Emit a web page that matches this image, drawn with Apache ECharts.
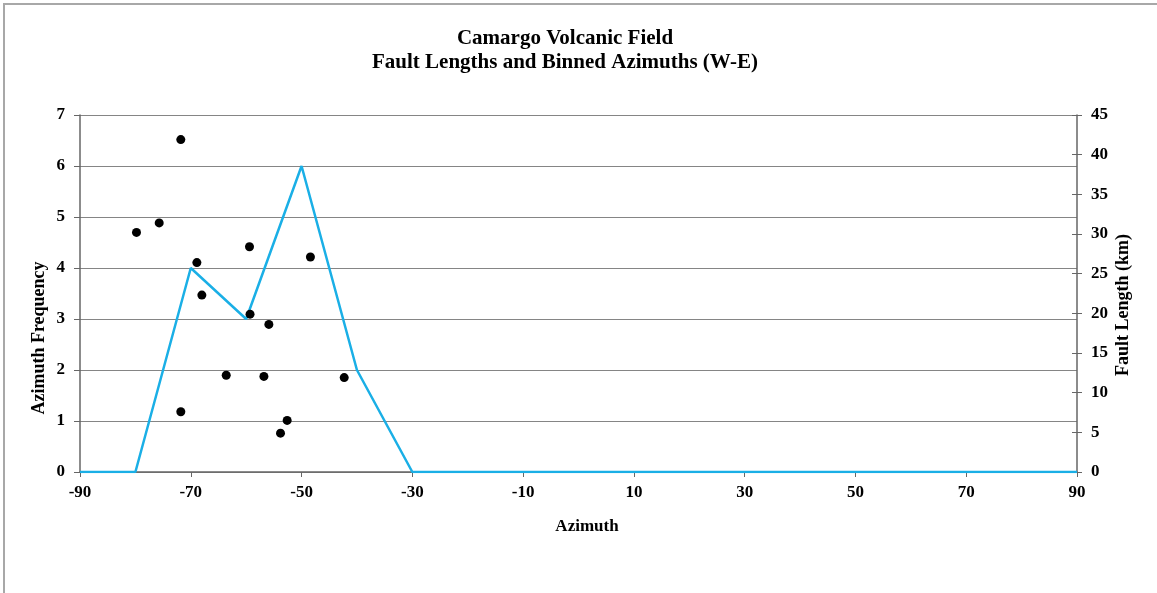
<!DOCTYPE html>
<html><head><meta charset="utf-8">
<script src="https://cdn.jsdelivr.net/npm/echarts@6/dist/echarts.min.js"></script>
<style>html,body{margin:0;padding:0;background:#fff}#c{width:1157px;height:593px}</style>
</head><body><div id="c"></div>
<script>
var binAzimuths = [-90,-80,-70,-60,-50,-40,-30,-20,-10,0,10,20,30,40,50,60,70,80,90];
var binFrequency = [0,0,4,3,6,2,0,0,0,0,0,0,0,0,0,0,0,0,0];
var faultAzimuth = [-79.8,-75.7,-71.8,-68.9,-68.0,-71.8,-63.6,-59.4,-59.3,-55.9,-56.8,-52.6,-53.8,-48.4,-42.3];
var faultLength  = [30.2,31.4,41.9,26.4,22.3,7.6,12.2,28.4,19.9,18.6,12.05,6.5,4.9,27.1,11.9];
var xTickLabels = [-90,-70,-50,-30,-10,10,30,50,70,90];

var font = '"Liberation Serif", "Times New Roman", serif';
var chart = echarts.init(document.getElementById('c'));
var lineData = binAzimuths.map(function(a,i){return [a, binFrequency[i]];});
var dotData = faultAzimuth.map(function(a,i){return [a, faultLength[i]];});
var tickFont = {fontFamily:font, fontWeight:'bold', fontSize:17, color:'#000'};
chart.setOption({
  animation:false,
  backgroundColor:'#fff',
  grid:{left:80, right:80, top:115, bottom:121},
  xAxis:{type:'value', min:-90, max:90,
    axisLine:{onZero:false, lineStyle:{color:'#666', width:1.5}},
    axisTick:{customValues:xTickLabels, length:5, lineStyle:{color:'#666'}},
    axisLabel:Object.assign({customValues:xTickLabels, margin:12}, tickFont),
    splitLine:{show:false}},
  yAxis:[
    {type:'value', min:0, max:7, interval:1, position:'left',
     axisLine:{show:true, onZero:false, lineStyle:{color:'#666', width:1.5}},
     axisTick:{show:true, length:6, lineStyle:{color:'#666'}},
     axisLabel:Object.assign({margin:15}, tickFont),
     splitLine:{show:true, lineStyle:{color:'#858585', width:1.2}}},
    {type:'value', min:0, max:45, interval:5, position:'right',
     axisLine:{show:true, onZero:false, lineStyle:{color:'#666', width:1.5}},
     axisTick:{show:true, length:5, lineStyle:{color:'#666'}},
     axisLabel:Object.assign({margin:14}, tickFont),
     splitLine:{show:false}},
    {type:'value', min:0, max:45, interval:5, position:'right',
     axisLine:{show:false, onZero:false},
     axisTick:{show:true, inside:true, length:5, lineStyle:{color:'#666'}},
     axisLabel:{show:false},
     splitLine:{show:false}}
  ],
  series:[
    {type:'line', yAxisIndex:0, data:lineData, symbol:'none', lineStyle:{color:'#1aafe6', width:2.5}, z:2},
    {type:'scatter', yAxisIndex:1, data:dotData, symbol:'circle', symbolSize:9, itemStyle:{color:'#000', opacity:1}, z:3}
  ],
  graphic:[
    {type:'rect', shape:{x:4, y:4, width:1300, height:800}, style:{fill:'none', stroke:'#a8a8a8', lineWidth:2}, silent:true},
    {type:'text', x:565, y:51, style:{text:'Camargo Volcanic Field\nFault Lengths and Binned Azimuths (W-E)', font:'bold 21px '+font, lineHeight:24, fill:'#000', textAlign:'center', textVerticalAlign:'middle'}},
    {type:'text', x:587, y:527, style:{text:'Azimuth', font:'bold 17px '+font, fill:'#000', textAlign:'center', textVerticalAlign:'middle'}},
    {type:'text', x:39, y:338, rotation:Math.PI/2, style:{text:'Azimuth Frequency', font:'bold 18px '+font, fill:'#000', textAlign:'center', textVerticalAlign:'middle'}},
    {type:'text', x:1123, y:305, rotation:Math.PI/2, style:{text:'Fault Length (km)', font:'bold 18px '+font, fill:'#000', textAlign:'center', textVerticalAlign:'middle'}}
  ]
});
</script></body></html>
